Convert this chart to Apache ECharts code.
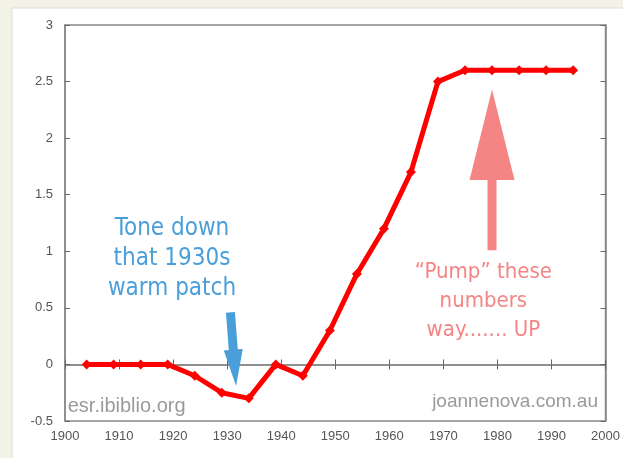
<!DOCTYPE html>
<html>
<head>
<meta charset="utf-8">
<script src="https://cdn.jsdelivr.net/npm/echarts@6/dist/echarts.min.js"></script>
<style>
html,body{margin:0;padding:0;overflow:hidden;background:#f3f2e7;}
#chart{width:623px;height:458px;display:block;}
</style>
</head>
<body>
<div id="chart"></div>
<script>
// data
var years = [1904, 1909, 1914, 1919, 1924, 1929, 1934, 1939, 1944, 1949, 1954, 1959, 1964, 1969, 1974, 1979, 1984, 1989, 1994];
var values = [0, 0, 0, 0, -0.1, -0.25, -0.3, 0, -0.1, 0.3, 0.8, 1.2, 1.7, 2.5, 2.6, 2.6, 2.6, 2.6, 2.6];
var blueText = 'Tone down\nthat 1930s\nwarm patch';
var pinkText = '\u201cPump\u201d these\nnumbers\nway....... UP';

var axisGrey = '#888';
var labelGrey = '#555';

var myChart = echarts.init(document.getElementById('chart'));

var option = {
    animation: false,
    backgroundColor: 'transparent',
    grid: {left: 65, right: 12, top: 25, bottom: 37, show: true, backgroundColor: '#fff', borderColor: axisGrey, borderWidth: 1.5},
    xAxis: [{
        type: 'value', min: 1900, max: 2000, interval: 10,
        axisLine: {show: true, lineStyle: {color: axisGrey, width: 1.5}},
        axisTick: {inside: true, length: 5, lineStyle: {color: '#666'}},
        axisLabel: {color: labelGrey, fontSize: 13, fontFamily: 'Liberation Sans', margin: 9,
            formatter: function (v) { return String(v); }},
        splitLine: {show: false}
    }, {
        type: 'value', min: 1900, max: 2000, interval: 10, position: 'top',
        axisLine: {show: true, lineStyle: {color: axisGrey, width: 1.5}},
        axisTick: {inside: true, length: 5, lineStyle: {color: '#666'}},
        axisLabel: {show: false}, splitLine: {show: false}
    }],
    yAxis: [{
        type: 'value', min: -0.5, max: 3, interval: 0.5,
        axisLine: {show: true, lineStyle: {color: axisGrey, width: 1.5}},
        axisTick: {inside: true, length: 5, lineStyle: {color: '#666'}},
        axisLabel: {color: labelGrey, fontSize: 13, fontFamily: 'Liberation Sans', margin: 12},
        splitLine: {show: false}
    }, {
        type: 'value', min: -0.5, max: 3, interval: 0.5, position: 'right',
        axisLine: {show: true, lineStyle: {color: axisGrey, width: 1.5}},
        axisTick: {inside: true, length: 5, lineStyle: {color: '#666'}},
        axisLabel: {show: false}, splitLine: {show: false}
    }],
    series: [{
        type: 'line',
        data: years.map(function (y, i) { return [y, values[i]]; }),
        lineStyle: {color: '#ff0000', width: 5},
        itemStyle: {color: '#ff0000'},
        symbol: 'diamond', symbolSize: 10,
        z: 5
    }]
};
myChart.setOption(option);

// annotations anchored in data space
function px(x, y) { return myChart.convertToPixel({gridIndex: 0}, [x, y]); }

function arrow(tail, tip, headBaseY, shaftHalf, headHalf, color) {
    var a = px(tail[0], tail[1]), b = px(tip[0], tip[1]);
    var hb = px(tip[0] + (tail[0] - tip[0]) * (tip[1] - headBaseY) / (tip[1] - tail[1]), headBaseY);
    var dx = b[0] - a[0], dy = b[1] - a[1], len = Math.sqrt(dx * dx + dy * dy);
    var nx = -dy / len, ny = dx / len;
    return {
        type: 'polygon', z: 4,
        shape: {points: [
            [a[0] + nx * shaftHalf, a[1] + ny * shaftHalf],
            [hb[0] + nx * shaftHalf, hb[1] + ny * shaftHalf],
            [hb[0] + nx * headHalf, hb[1] + ny * headHalf],
            b,
            [hb[0] - nx * headHalf, hb[1] - ny * headHalf],
            [hb[0] - nx * shaftHalf, hb[1] - ny * shaftHalf],
            [a[0] - nx * shaftHalf, a[1] - ny * shaftHalf]
        ]},
        style: {fill: color}
    };
}

var bt = px(1919.8, 0.93), pt = px(1977.4, 0.56), w1 = px(1900.5, -0.37), w2 = px(1998.6, -0.33);

myChart.setOption({
    graphic: [
        {type: 'rect', z: -10, silent: true, shape: {x: 12, y: 8, width: 620, height: 460},
            style: {fill: '#fff', stroke: '#dcdcdc', lineWidth: 1}},
        {type: 'text', z: 4, x: bt[0], y: bt[1], style: {text: blueText, fill: '#4a9fdb',
            font: '24px "DejaVu Sans Condensed", "DejaVu Sans"', lineHeight: 30, align: 'center', verticalAlign: 'middle'}},
        arrow([1930.6, 0.46], [1931.65, -0.19], 0.13, 4.5, 9.5, '#4a9fdb'),
        {type: 'text', z: 4, x: pt[0], y: pt[1], style: {text: pinkText, fill: '#f58585',
            font: '22px "DejaVu Sans Condensed", "DejaVu Sans"', lineHeight: 29, align: 'center', verticalAlign: 'middle'}},
        arrow([1979.0, 1.01], [1979.0, 2.43], 1.63, 4.5, 22.5, '#f58585'),
        {type: 'text', z: 4, x: w1[0], y: w1[1], style: {text: 'esr.ibiblio.org', fill: '#9a9a9a',
            font: '20px "Liberation Sans"', align: 'left', verticalAlign: 'middle'}},
        {type: 'text', z: 4, x: w2[0], y: w2[1], style: {text: 'joannenova.com.au', fill: '#9a9a9a',
            font: '19px "Liberation Sans"', align: 'right', verticalAlign: 'middle'}}
    ]
});
</script>
</body>
</html>
